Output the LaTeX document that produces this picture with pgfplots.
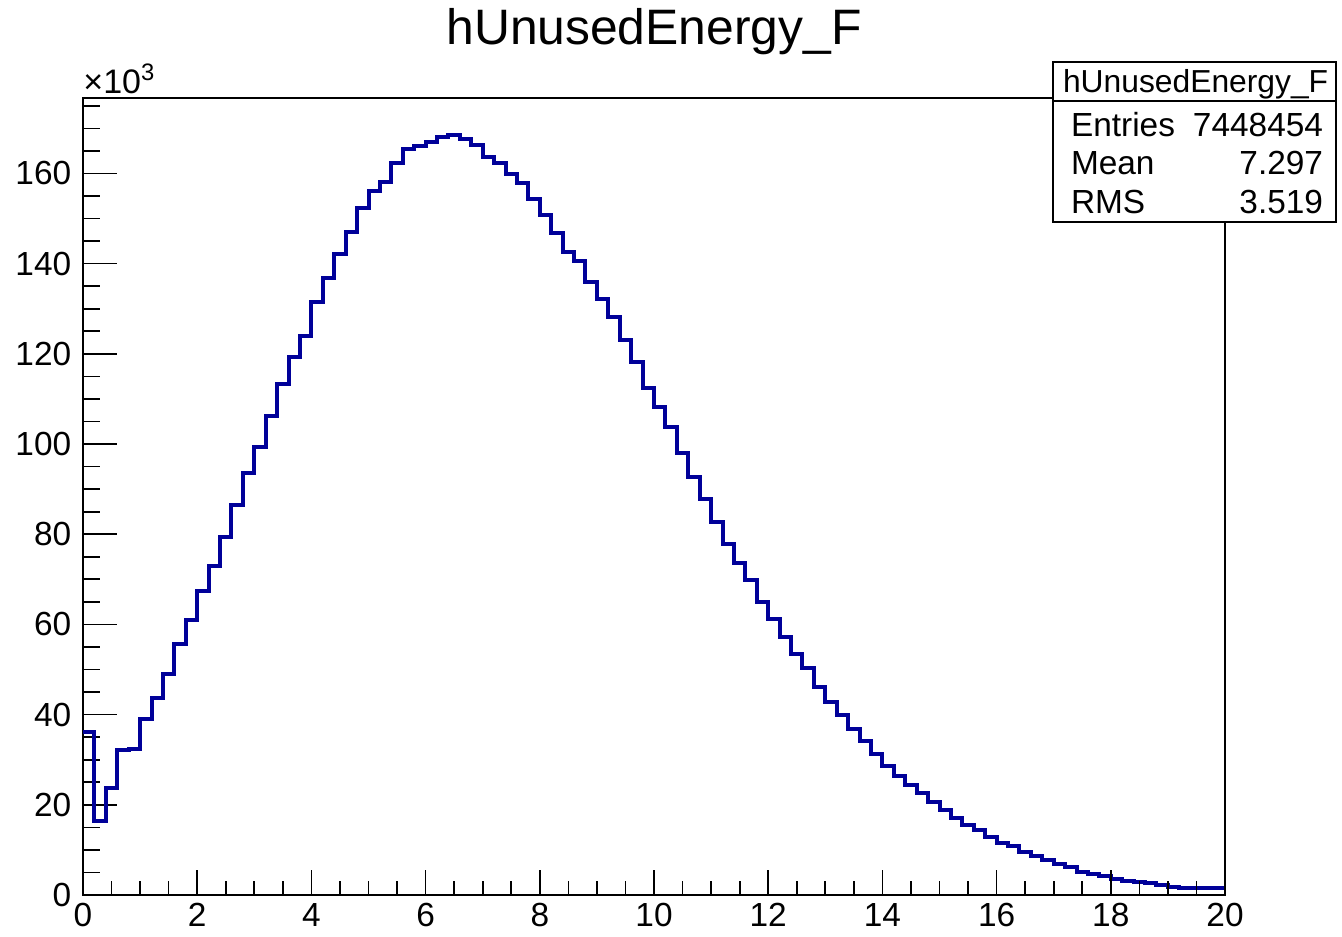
\documentclass[border=0pt]{standalone}
\usepackage{pgfplots}
\pgfplotsset{compat=1.18}
\usepackage{pgfplotstable}
\usepackage{fontspec}
\setmainfont{Liberation Sans}
\definecolor{histblue}{RGB}{0,0,153}
\pgfplotstableread{
x y
0.0 36.2
0.2 16.5
0.4 23.8
0.6 32.1
0.8 32.4
1.0 39.0
1.2 43.7
1.4 48.9
1.6 55.6
1.8 60.9
2.0 67.5
2.2 72.9
2.4 79.4
2.6 86.5
2.8 93.6
3.0 99.3
3.2 106.3
3.4 113.3
3.6 119.4
3.8 124.0
4.0 131.4
4.2 136.8
4.4 142.2
4.6 147.1
4.8 152.4
5.0 156.2
5.2 158.2
5.4 162.4
5.6 165.5
5.8 166.1
6.0 166.9
6.2 168.1
6.4 168.5
6.6 167.7
6.8 166.4
7.0 163.6
7.2 162.3
7.4 159.8
7.6 157.8
7.8 154.4
8.0 150.8
8.2 146.7
8.4 142.6
8.6 140.6
8.8 135.9
9.0 132.2
9.2 128.2
9.4 123.1
9.6 118.2
9.8 112.4
10.0 108.3
10.2 103.8
10.4 98.1
10.6 92.6
10.8 87.8
11.0 82.7
11.2 77.8
11.4 73.7
11.6 69.9
11.8 65.0
12.0 61.3
12.2 57.2
12.4 53.5
12.6 50.3
12.8 46.1
13.0 42.9
13.2 39.9
13.4 36.9
13.6 34.2
13.8 31.2
14.0 28.6
14.2 26.4
14.4 24.4
14.6 22.7
14.8 20.7
15.0 18.8
15.2 17.0
15.4 15.5
15.6 14.4
15.8 12.8
16.0 11.5
16.2 10.8
16.4 9.6
16.6 8.6
16.8 7.8
17.0 6.9
17.2 6.3
17.4 5.2
17.6 4.7
17.8 4.2
18.0 3.6
18.2 3.2
18.4 2.9
18.6 2.6
18.8 2.2
19.0 1.8
19.2 1.6
19.4 1.5
19.6 1.5
19.8 1.5
20.0 1.5
}\histdata

\begin{document}
\begin{tikzpicture}
\path[use as bounding box] (-41.5pt,-20.5pt) rectangle (629.5pt,447.5pt);
\begin{axis}[
  at={(0pt,0pt)}, anchor=south west,
  scale only axis, width=571pt, height=398.65pt,
  xmin=0, xmax=20, ymin=0, ymax=176.8,
  axis line style={line width=0.9pt},
  xtick=\empty,
  ytick={0,20,...,160},
  minor ytick={5,10,...,175},
  ytick pos=left,
  tick align=inside,
  major tick length=17pt, minor tick length=8.5pt,
  every tick/.style={black, line width=0.85pt},
  yticklabel style={anchor=east, inner sep=0pt, xshift=-5.7pt, font=\fontsize{16.7}{20}\selectfont},
  /pgf/number format/assume math mode=true,
  scaled y ticks=false,
]
\addplot[const plot mark left, color=histblue, line width=2pt, mark=none] table[x=x,y=y] {\histdata};
\end{axis}
\begin{axis}[
  at={(0pt,0pt)}, anchor=south west,
  scale only axis, width=571pt, height=398.65pt,
  xmin=0, xmax=20, ymin=0, ymax=176.8,
  axis line style={draw=none},
  ytick=\empty,
  xtick={0,2,...,20},
  minor xtick={0.5,1,...,19.5},
  xtick pos=bottom,
  tick align=inside,
  major tick length=12.5pt, minor tick length=7pt,
  every tick/.style={black, line width=0.85pt},
  xticklabel style={anchor=north, inner sep=0pt, yshift=-4pt, font=\fontsize{16.7}{20}\selectfont},
  /pgf/number format/assume math mode=true,
]
\end{axis}
\node[anchor=base, inner sep=0pt, font=\fontsize{24.9}{30}\selectfont] at (285.5pt,425pt) {hUnusedEnergy\_F};
\node[anchor=base west, inner sep=0pt, font=\fontsize{17}{20}\selectfont] at (0pt,400.9pt) {×10\textsuperscript{3}};
\draw[line width=0.9pt, fill=white] (485pt,336.5pt) rectangle (626.5pt,416.5pt);
\draw[line width=0.9pt] (485pt,397pt) -- (626.5pt,397pt);
\node[anchor=base, inner sep=0pt, font=\fontsize{15.9}{19}\selectfont] at (556.3pt,401.2pt) {hUnusedEnergy\_F};
\begin{scope}[every node/.style={inner sep=0pt, font=\fontsize{16.7}{20}\selectfont}]
\node[anchor=base west] at (493.8pt,379.3pt) {Entries};
\node[anchor=base east] at (620.2pt,379.3pt) {7448454};
\node[anchor=base west] at (493.8pt,360.3pt) {Mean};
\node[anchor=base east] at (620.2pt,360.3pt) {7.297};
\node[anchor=base west] at (493.8pt,340.6pt) {RMS};
\node[anchor=base east] at (620.2pt,340.6pt) {3.519};
\end{scope}
\end{tikzpicture}
\end{document}
